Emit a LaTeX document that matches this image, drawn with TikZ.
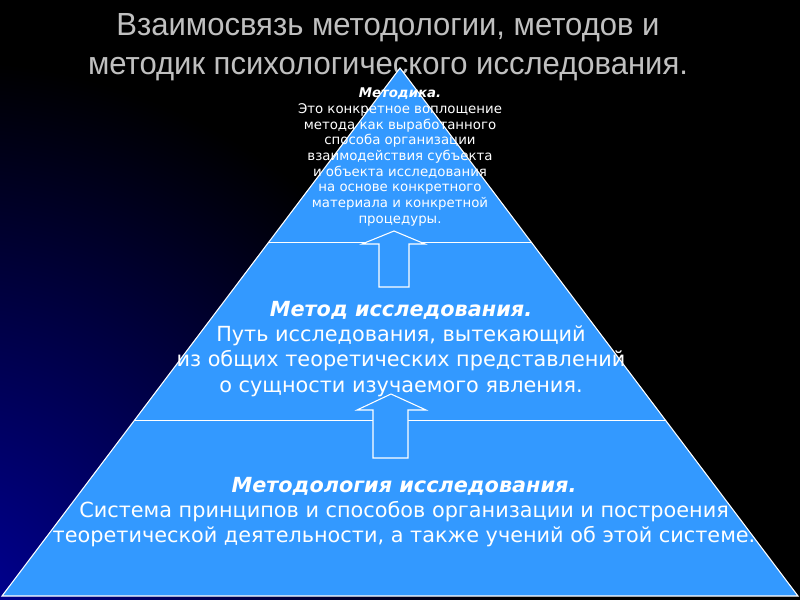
\documentclass[tikz,border=0pt]{standalone}
\usepackage{fontspec}
\setmainfont{DejaVu Sans}
\newfontfamily\headfont[FakeStretch=0.97]{Liberation Sans}
\usetikzlibrary{calc,positioning}
\definecolor{tierblue}{HTML}{3399FF}
\definecolor{headgray}{HTML}{C0C0C0}
\definecolor{glow}{HTML}{0000A0}

\begin{document}
\begin{tikzpicture}[x=0.75pt,y=-0.75pt,
  heading/.style={text=headgray,font=\headfont\fontsize{24}{29.2}\selectfont,align=center},
  toptext/.style={text=white,font=\fontsize{10}{11.8}\selectfont,align=center},
  tiertext/.style={text=white,font=\fontsize{15.6}{18.8}\selectfont,align=center},
  pyramid/.style={draw=white,fill=tierblue,line width=0.8pt},
  divider/.style={draw=white,line width=0.8pt},
  blockarrow/.style={draw=white,fill=tierblue,line width=0.8pt,line join=miter},
]
  % background
  \fill[black] (0,0) rectangle (800,600);
  \begin{scope}
    \clip (0,0) rectangle (800,600);
    \shade[inner color=glow,outer color=black] (-60,640) circle (580);
  \end{scope}
  \useasboundingbox (0,0) rectangle (800,600);

  \node[heading] (title) at (388,47) {Взаимосвязь методологии, методов и\\методик психологического исследования.};

  % pyramid
  \coordinate (apex) at (400,68);
  \coordinate (bl) at (2,596);
  \coordinate (br) at (798,596);
  \draw[pyramid] (apex) -- (bl) -- (br) -- cycle;
  \draw[divider] ($(apex)!0.331!(bl)$) -- ($(apex)!0.331!(br)$);
  \draw[divider] ($(apex)!0.667!(bl)$) -- ($(apex)!0.667!(br)$);

  % arrows between tiers
  \draw[blockarrow] (379,287) -- (379,244) -- (362,244) -- (394,231) -- (425,244) -- (409,244) -- (409,287) -- cycle;
  \draw[blockarrow] (373,458) -- (373,410) -- (357,410) -- (391,394) -- (426,410) -- (408,410) -- (408,458) -- cycle;

  \node[toptext] (metodika) at (400,157) {\textbf{\textit{Методика.}}\\Это конкретное воплощение\\метода как выработанного\\способа организации\\взаимодействия субъекта\\и объекта исследования\\на основе конкретного\\материала и конкретной\\процедуры.};
  \node[tiertext] (metod) at (401,349) {\textbf{\textit{Метод исследования.}}\\Путь исследования, вытекающий\\из общих теоретических представлений\\о сущности изучаемого явления.};
  \node[tiertext] (metodologia) at (404,512) {\textbf{\textit{Методология исследования.}}\\Система принципов и способов организации и построения\\теоретической деятельности, а также учений об этой системе.};
\end{tikzpicture}
\end{document}
